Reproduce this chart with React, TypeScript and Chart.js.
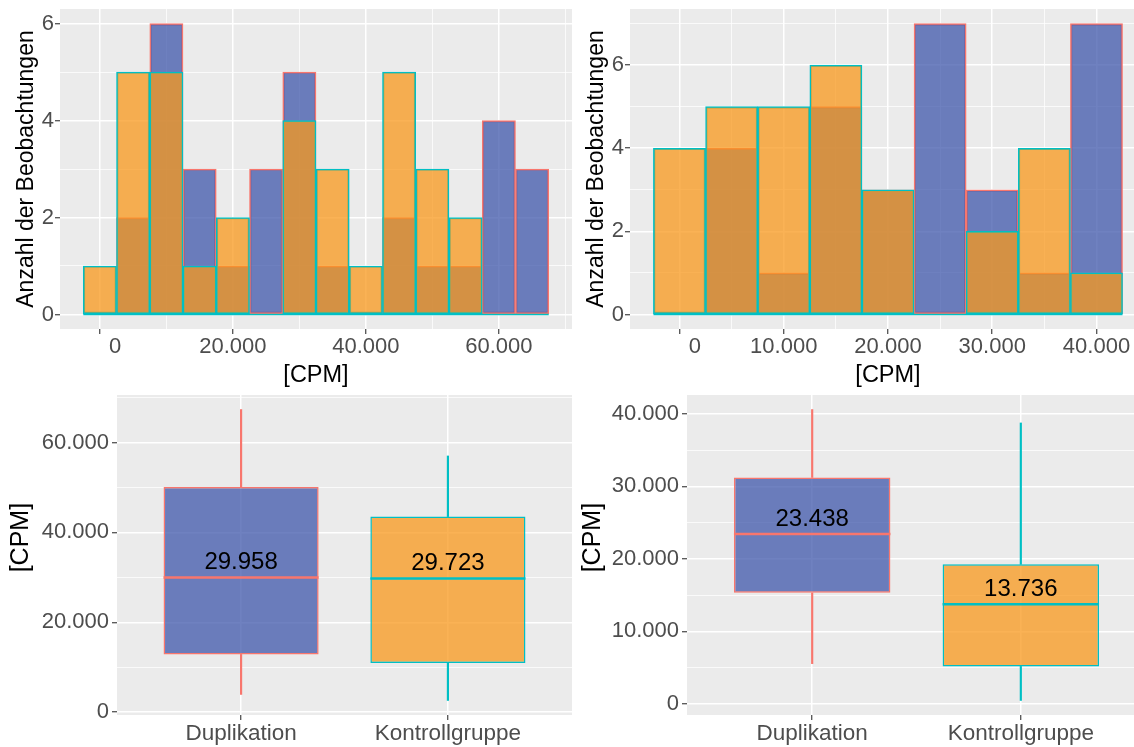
import React, { useEffect, useRef } from 'react';
import { Chart, registerables } from 'chart.js';

Chart.register(...registerables);

// ---------- colours ----------
const BLUE = 'rgba(63,87,171,0.75)';
const ORANGE = 'rgba(248,152,28,0.75)';
const SALMON = '#F8766D';
const CYAN = '#00BFC4';
const PANEL_BG = '#EBEBEB';
const FONT = "'Liberation Sans', Arial, sans-serif";

// ---------- histogram 1 (top left) ----------
const HIST1_BINS = [0, 5000, 10000, 15000, 20000, 25000, 30000, 35000, 40000, 45000, 50000, 55000, 60000, 65000];
const HIST1_DUP = [0, 2, 6, 3, 1, 3, 5, 1, 0, 2, 1, 1, 4, 3];
const HIST1_KON = [1, 5, 5, 1, 2, 0, 4, 3, 1, 5, 3, 2, 0, 0];
const HIST1_X_MAJOR = [0, 20000, 40000, 60000];
const HIST1_X_LABELS = ['     0', '20.000', '40.000', '60.000'];
const HIST1_X_MINOR = [10000, 30000, 50000, 70000];
const HIST1_Y_MAJOR = [0, 2, 4, 6];
const HIST1_Y_LABELS = ['0', '2', '4', '6'];
const HIST1_Y_MINOR = [1, 3, 5];

// ---------- histogram 2 (top right) ----------
const HIST2_BINS = [0, 5000, 10000, 15000, 20000, 25000, 30000, 35000, 40000];
const HIST2_DUP = [0, 4, 1, 5, 3, 7, 3, 1, 7];
const HIST2_KON = [4, 5, 5, 6, 3, 0, 2, 4, 1];
const HIST2_X_MAJOR = [0, 10000, 20000, 30000, 40000];
const HIST2_X_LABELS = ['     0', '10.000', '20.000', '30.000', '40.000'];
const HIST2_X_MINOR = [5000, 15000, 25000, 35000];
const HIST2_Y_MAJOR = [0, 2, 4, 6];
const HIST2_Y_LABELS = ['0', '2', '4', '6'];
const HIST2_Y_MINOR = [1, 3, 5, 7];

const BIN_WIDTH = 5000;

// ---------- boxplots ----------
const GROUPS = ['Duplikation', 'Kontrollgruppe'];
const GROUP_POS = [1, 2];

const BOX1_MIN = [3940, 2600];
const BOX1_Q1 = [12850, 10910];
const BOX1_MED = [29958, 29723];
const BOX1_Q3 = [50110, 43520];
const BOX1_MAX = [67350, 57020];
const BOX1_MED_LABELS = ['29.958', '29.723'];
const BOX1_Y_MAJOR = [0, 20000, 40000, 60000];
const BOX1_Y_LABELS = ['0', '20.000', '40.000', '60.000'];
const BOX1_Y_MINOR = [10000, 30000, 50000, 70000];

const BOX2_MIN = [5540, 460];
const BOX2_Q1 = [15310, 5160];
const BOX2_MED = [23438, 13736];
const BOX2_Q3 = [31230, 19240];
const BOX2_MAX = [40600, 38750];
const BOX2_MED_LABELS = ['23.438', '13.736'];
const BOX2_Y_MAJOR = [0, 10000, 20000, 30000, 40000];
const BOX2_Y_LABELS = ['0', '10.000', '20.000', '30.000', '40.000'];
const BOX2_Y_MINOR = [5000, 15000, 25000, 35000];

const FILLS = [BLUE, ORANGE];
const LINES = [SALMON, CYAN];

// ---------- helpers ----------
const bgPlugin = {
  id: 'panelBg',
  beforeDraw(chart: any) {
    const { ctx, chartArea: a } = chart;
    ctx.save();
    ctx.fillStyle = PANEL_BG;
    ctx.fillRect(a.left, a.top, a.right - a.left, a.bottom - a.top);
    ctx.restore();
  },
};

function axis(o: {
  min: number; max: number; major: number[]; minor: number[]; labels: string[];
  title: string; titlePad: any; titleSize: number; size: number; horizontal: boolean; tickPad: number; tickSize: number;
}) {
  const isMajor = (v: any) => o.major.indexOf(v) >= 0;
  return {
    type: 'linear',
    min: o.min,
    max: o.max,
    offset: false,
    afterBuildTicks(scale: any) {
      scale.ticks = [...o.major, ...o.minor].sort((a, b) => a - b).map((v) => ({ value: v }));
    },
    afterFit(scale: any) {
      if (o.horizontal) scale.height = o.size; else scale.width = o.size;
      scale.paddingTop = 0;
      scale.paddingBottom = 0;
      scale.paddingLeft = 0;
      scale.paddingRight = 0;
    },
    grid: {
      offset: false,
      color: '#FFFFFF',
      lineWidth: (ctx: any) => (isMajor(ctx.tick && ctx.tick.value) ? 1.5 : 0.75),
      tickColor: (ctx: any) => (isMajor(ctx.tick && ctx.tick.value) ? '#333333' : 'rgba(0,0,0,0)'),
      tickWidth: 1.1,
      tickLength: 5,
      drawTicks: true,
    },
    border: { display: false },
    ticks: {
      autoSkip: false,
      maxRotation: 0,
      minRotation: 0,
      padding: o.tickPad,
      color: '#4D4D4D',
      font: { family: FONT, size: o.tickSize },
      callback: (v: any) => {
        const i = o.major.indexOf(v);
        return i >= 0 ? o.labels[i] : '';
      },
    },
    title: {
      display: o.title !== '',
      text: o.title,
      color: '#000000',
      font: { family: FONT, size: o.titleSize },
      padding: o.titlePad,
    },
  };
}

function histConfig(bins: number[], dup: number[], kon: number[], xMajor: number[], xLabels: string[], xMinor: number[],
  yMajor: number[], yLabels: string[], yMinor: number[], padRight: number) {
  const lo = bins[0] - BIN_WIDTH / 2;
  const hi = bins[bins.length - 1] + BIN_WIDTH / 2;
  const xPad = (hi - lo) * 0.05;
  const yMax = Math.max(...dup, ...kon);
  const common = { borderWidth: 1.5, borderSkipped: false, grouped: false, barPercentage: 1, categoryPercentage: 1 };
  return {
    type: 'bar',
    data: {
      datasets: [
        // outline of the empty (zero-count) Kontrollgruppe bins along the baseline
        {
          type: 'line', label: 'Kontrollgruppe baseline',
          data: [{ x: lo, y: 0 }, { x: hi, y: 0 }],
          borderColor: CYAN, borderWidth: 1.5, pointRadius: 0, fill: false,
        },
        { ...common, label: 'Kontrollgruppe', data: bins.map((b, i) => ({ x: b, y: kon[i] })), backgroundColor: ORANGE, borderColor: CYAN },
        { ...common, label: 'Duplikation', data: bins.map((b, i) => ({ x: b, y: dup[i] })), backgroundColor: BLUE, borderColor: SALMON },
      ],
    },
    options: {
      responsive: false,
      maintainAspectRatio: false,
      animation: false,
      events: [],
      layout: { padding: { top: 9, right: padRight, left: 0, bottom: 0 } },
      plugins: { legend: { display: false }, tooltip: { enabled: false } },
      scales: {
        x: axis({ min: lo - xPad, max: hi + xPad, major: xMajor, minor: xMinor, labels: xLabels, title: '[CPM]',
          titlePad: { top: 0, bottom: 0 }, titleSize: 23.5, size: 61, horizontal: true, tickPad: 0, tickSize: 22 }),
        y: axis({ min: -yMax * 0.05, max: yMax * 1.05, major: yMajor, minor: yMinor, labels: yLabels, title: 'Anzahl der Beobachtungen',
          titlePad: { top: 13, bottom: 0 }, titleSize: 23, size: 60, horizontal: false, tickPad: 1, tickSize: 22 }),
      },
    },
    plugins: [bgPlugin],
  };
}

function boxConfig(mn: number[], q1: number[], med: number[], q3: number[], mx: number[], medLabels: string[],
  yMajor: number[], yLabels: string[], yMinor: number[], padRight: number, titleTop: number) {
  const lo = Math.min(...mn);
  const hi = Math.max(...mx);
  const pad = (hi - lo) * 0.05;
  const medianPlugin = {
    id: 'medians',
    afterDatasetsDraw(chart: any) {
      const { ctx } = chart;
      const yS = chart.scales.y;
      const meta = chart.getDatasetMeta(0);
      meta.data.forEach((el: any, i: number) => {
        const py = yS.getPixelForValue(med[i]);
        const half = el.width / 2;
        ctx.save();
        ctx.strokeStyle = LINES[i];
        ctx.lineWidth = 2.5;
        ctx.beginPath();
        ctx.moveTo(el.x - half, py);
        ctx.lineTo(el.x + half, py);
        ctx.stroke();
        ctx.fillStyle = '#000000';
        ctx.font = `24px ${FONT}`;
        ctx.textAlign = 'center';
        ctx.textBaseline = 'middle';
        ctx.fillText(medLabels[i], el.x, py - 15);
        ctx.restore();
      });
    },
  };
  return {
    type: 'bar',
    data: {
      datasets: [
        {
          label: 'box', grouped: false, barPercentage: 0.75, categoryPercentage: 1,
          data: GROUP_POS.map((p, i) => ({ x: p, y: [q1[i], q3[i]] })),
          backgroundColor: FILLS, borderColor: LINES, borderWidth: 1.5, borderSkipped: false,
        },
        {
          label: 'lower whisker', grouped: false, barThickness: 1.5,
          data: GROUP_POS.map((p, i) => ({ x: p, y: [mn[i], q1[i]] })),
          backgroundColor: LINES, borderWidth: 0,
        },
        {
          label: 'upper whisker', grouped: false, barThickness: 1.5,
          data: GROUP_POS.map((p, i) => ({ x: p, y: [q3[i], mx[i]] })),
          backgroundColor: LINES, borderWidth: 0,
        },
      ],
    },
    options: {
      responsive: false,
      maintainAspectRatio: false,
      animation: false,
      events: [],
      layout: { padding: { top: 5, right: padRight, left: 0, bottom: 0 } },
      plugins: { legend: { display: false }, tooltip: { enabled: false } },
      scales: {
        x: axis({ min: 0.4, max: 2.6, major: GROUP_POS, minor: [], labels: GROUPS, title: '',
          titlePad: 0, titleSize: 23, size: 32, horizontal: true, tickPad: 0, tickSize: 22.5 }),
        y: axis({ min: lo - pad, max: hi + pad, major: yMajor, minor: yMinor, labels: yLabels, title: '     [CPM]',
          titlePad: { top: titleTop, bottom: 0 }, titleSize: 25, size: 117, horizontal: false, tickPad: 3, tickSize: 22 }),
      },
    },
    plugins: [bgPlugin, medianPlugin],
  };
}

function Panel({ left, top, width, height, make }: { left: number; top: number; width: number; height: number; make: () => any }) {
  const ref = useRef<HTMLCanvasElement>(null);
  useEffect(() => {
    const chart = new Chart(ref.current as HTMLCanvasElement, make());
    return () => chart.destroy();
  }, []);
  return (
    <div style={{ position: 'absolute', left, top, width, height }}>
      <canvas ref={ref} width={width} height={height} style={{ width, height, display: 'block' }} />
    </div>
  );
}

export default function App() {
  return (
    <div style={{ position: 'absolute', left: 0, top: 0, width: 1134, height: 747, overflow: 'hidden', background: '#FFFFFF' }}>
      <Panel left={0} top={0} width={600} height={390}
        make={() => histConfig(HIST1_BINS, HIST1_DUP, HIST1_KON, HIST1_X_MAJOR, HIST1_X_LABELS, HIST1_X_MINOR,
          HIST1_Y_MAJOR, HIST1_Y_LABELS, HIST1_Y_MINOR, 28)} />
      <Panel left={570} top={0} width={600} height={390}
        make={() => histConfig(HIST2_BINS, HIST2_DUP, HIST2_KON, HIST2_X_MAJOR, HIST2_X_LABELS, HIST2_X_MINOR,
          HIST2_Y_MAJOR, HIST2_Y_LABELS, HIST2_Y_MINOR, 24)} />
      <Panel left={0} top={390} width={600} height={357}
        make={() => boxConfig(BOX1_MIN, BOX1_Q1, BOX1_MED, BOX1_Q3, BOX1_MAX, BOX1_MED_LABELS,
          BOX1_Y_MAJOR, BOX1_Y_LABELS, BOX1_Y_MINOR, 28, 6)} />
      <Panel left={570} top={390} width={600} height={357}
        make={() => boxConfig(BOX2_MIN, BOX2_Q1, BOX2_MED, BOX2_Q3, BOX2_MAX, BOX2_MED_LABELS,
          BOX2_Y_MAJOR, BOX2_Y_LABELS, BOX2_Y_MINOR, 24, 8)} />
    </div>
  );
}
